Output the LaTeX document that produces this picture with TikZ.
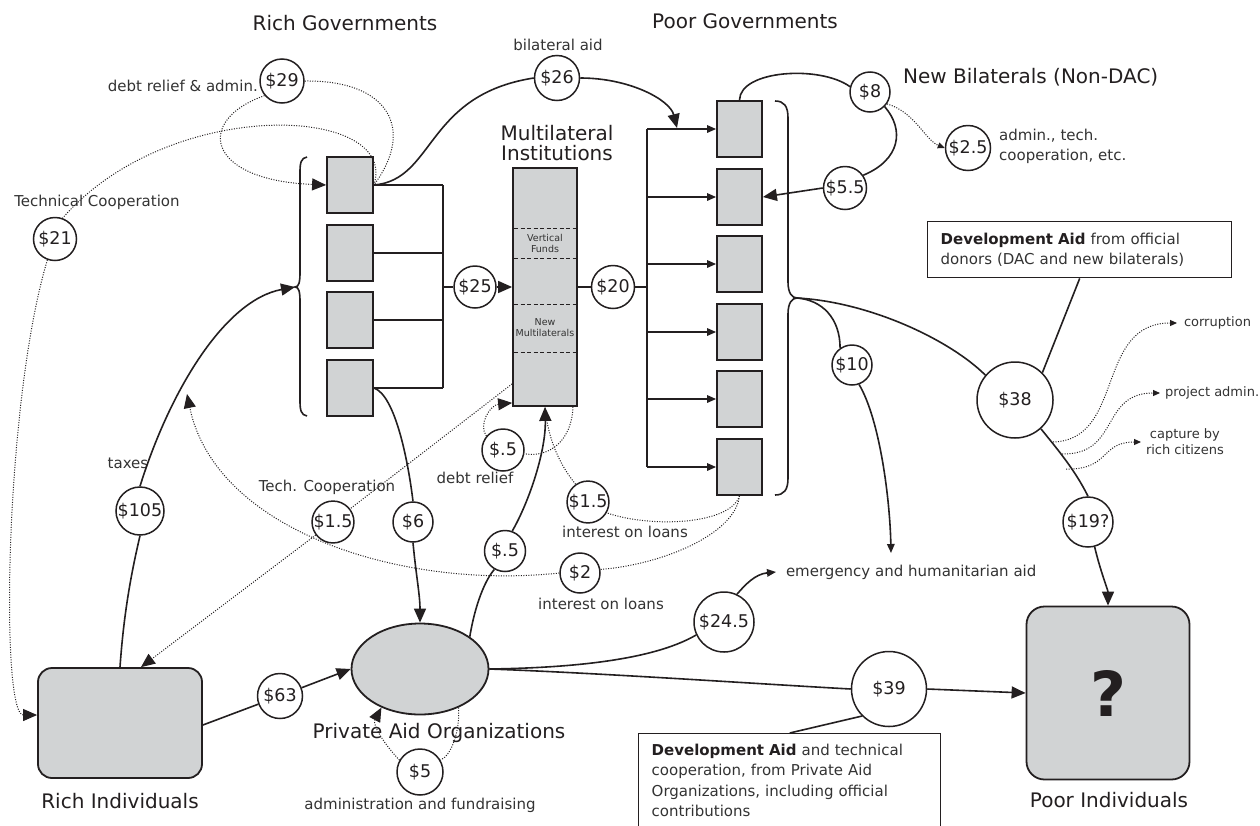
\documentclass[tikz,border=0pt]{standalone}
\usepackage{fontspec}
\setmainfont{DejaVu Sans}
\usetikzlibrary{arrows.meta,shapes.geometric,calc}
\definecolor{ink}{HTML}{231F20}
\definecolor{boxgray}{HTML}{D1D3D4}
\definecolor{lab}{HTML}{333333}
\newcommand\fsz[2]{\fontsize{#1}{#2}\selectfont}
\tikzset{
  ln/.style={draw=ink, line width=1.6pt},
  dotln/.style={draw=ink, line width=1pt, dash pattern=on 1pt off 1.5pt},
  dashln/.style={draw=ink, line width=1pt, dash pattern=on 4pt off 2.5pt},
  arr/.style={-{Triangle[length=14pt,width=12pt]}},
  sarr/.style={-{Triangle[length=9pt,width=7.5pt]}},
  tarr/.style={-{Triangle[length=7pt,width=6pt]}},
  gbox/.style={draw=ink, fill=boxgray, line width=1.8pt, inner sep=0pt},
  money/.style={circle, draw=ink, fill=white, line width=1.5pt, inner sep=0pt, text=ink, font=\fsz{17.5}{20}},
  ttl/.style={text=ink, font=\fsz{20}{20.5}, inner sep=0pt, align=center},
  lbl/.style={text=lab, font=\fsz{15}{20}, inner sep=0pt},
  smlbl/.style={text=lab, font=\fsz{13}{16}, inner sep=0pt},
  notebox/.style={draw=ink, line width=1.4pt, text=lab, font=\fsz{15}{20.5}, align=left, anchor=north west, inner xsep=13pt, inner ysep=10pt},
}
\begin{document}
\begin{tikzpicture}[x=1pt,y=-1pt]
\useasboundingbox (0,0) rectangle (1260,825);
\fill[white] (0,0) rectangle (1260,825);
\clip (0,0) rectangle (1260,825);

% ---------- titles
\node[ttl] at (345,23) {Rich Governments};
\node[ttl] at (745,21) {Poor Governments};
\node[ttl] at (557,143) {Multilateral\\Institutions};
\node[ttl, anchor=west] at (903,77) {New Bilaterals (Non-DAC)};
\node[ttl] at (120,801) {Rich Individuals};
\node[ttl] at (439,733) {Private Aid Organizations};
\node[ttl] at (1109,800) {Poor Individuals};

% ---------- boxes
\foreach \i/\y in {1/185,2/253,3/320,4/388}
  \node[gbox, minimum width=46pt, minimum height=56pt] (rg\i) at (350,\y) {};
\foreach \i/\y in {1/129,2/197,3/264,4/332,5/399,6/467}
  \node[gbox, minimum width=45pt, minimum height=56pt] (pg\i) at (739.5,\y) {};
\node[gbox, minimum width=64pt, minimum height=238pt] (mi) at (545,287) {};
\draw[dashln] (514,228) -- (576,228) (514,258) -- (576,258)
              (514,304) -- (576,304) (514,352) -- (576,352);
\node[text=lab, font=\fsz{9.5}{11}, align=center, inner sep=0pt] at (545,243) {Vertical\\Funds};
\node[text=lab, font=\fsz{9.5}{11}, align=center, inner sep=0pt] at (545,328) {New\\Multilaterals};

\node[gbox, rounded corners=14pt, minimum width=164pt, minimum height=110pt] (ri) at (120,723) {};
\node[gbox, ellipse, minimum width=137pt, minimum height=91pt] (pao) at (420,669) {};
\node[gbox, rounded corners=18pt, minimum width=163pt, minimum height=173pt, text=ink, font=\fsz{62}{62}\bfseries] (pi) at (1108,693) {?};

% ---------- notes
\node[notebox, text width=278pt, minimum height=56pt] (db1) at (927,221)
  {\textbf{\color{ink}Development Aid} from official\\donors (DAC and new bilaterals)};
\node[notebox, text width=276pt] (db2) at (638,733)
  {\textbf{\color{ink}Development Aid} and technical\\cooperation, from Private Aid\\Organizations, including official\\contributions};

% ---------- circles
\node[money, minimum size=44pt] (c29) at (282,81) {\$29};
\node[money, minimum size=43pt] (c21) at (55,239) {\$21};
\node[money, minimum size=45pt] (c26) at (557,78) {\$26};
\node[money, minimum size=40pt] (c8) at (870,92) {\$8};
\node[money, minimum size=45pt] (c2p5) at (968,148) {\$2.5};
\node[money, minimum size=43pt] (c55) at (845,188) {\$5.5};
\node[money, minimum size=42pt] (c25) at (475,287) {\$25};
\node[money, minimum size=43pt] (c20) at (613,287) {\$20};
\node[money, minimum size=40pt] (c10) at (852,365) {\$10};
\node[money, minimum size=76pt] (c38) at (1015,400) {\$38};
\node[money, minimum size=50pt] (c19) at (1088,522) {\$19?};
\node[money, minimum size=42pt] (cdr) at (503,450) {\$.5};
\node[money, minimum size=41pt] (ci15) at (588,502) {\$1.5};
\node[money, minimum size=41pt] (ct15) at (333,522) {\$1.5};
\node[money, minimum size=40pt] (c6) at (413,522) {\$6};
\node[money, minimum size=48pt] (c105) at (140,511) {\$105};
\node[money, minimum size=41pt] (cp5) at (505,551) {\$.5};
\node[money, minimum size=40pt] (c2) at (580,573) {\$2};
\node[money, minimum size=60pt] (c245) at (724,622) {\$24.5};
\node[money, minimum size=75pt] (c39) at (889,689) {\$39};
\node[money, minimum size=45pt] (c63) at (280,696) {\$63};
\node[money, minimum size=46pt] (c5) at (420,772) {\$5};

% ---------- labels
\node[lbl] at (558,45) {bilateral aid};
\node[lbl, anchor=east] at (258,86) {debt relief \& admin.};
\node[lbl] at (97,202) {Technical Cooperation};
\node[lbl] at (128,463) {taxes};
\node[lbl] at (327,487) {Tech. Cooperation};
\node[lbl] at (475,478) {debt relief};
\node[lbl] at (625,532) {interest on loans};
\node[lbl] at (601,604) {interest on loans};
\node[lbl, anchor=west, align=left] at (999,146) {admin., tech.\\cooperation, etc.};
\node[lbl, anchor=west, outer xsep=10pt] (emt) at (776,572) {emergency and humanitarian aid};
\node[smlbl, anchor=west, outer xsep=7pt] (corr) at (1177,323) {corruption};
\node[smlbl, anchor=west, outer xsep=5pt] (pa) at (1160,393) {project admin.};
\node[smlbl, anchor=west, outer xsep=5pt, align=center] (cap) at (1141,442) {capture by\\rich citizens};
\node[text=lab, font=\fsz{15}{18}, inner sep=0pt] at (420,805) {administration and fundraising};

% ---------- braces
\draw[ln] (307,157) .. controls (301,158) and (300,163) .. (300,172) -- (300,272)
  .. controls (300,282) and (299,287) .. (295,287)
  .. controls (299,287) and (300,292) .. (300,302) -- (300,401)
  .. controls (300,410) and (301,415) .. (307,416);
\coordinate (rbt) at (295,287);
\draw[ln] (775,101) .. controls (784,101) and (788,106) .. (788,118) -- (788,282)
  .. controls (788,293) and (792,298) .. (797,298)
  .. controls (792,298) and (788,303) .. (788,314) -- (788,478)
  .. controls (788,490) and (784,495) .. (775,495);
\coordinate (pbt) at (797,298);

% ---------- bus lines
\coordinate (bl) at (443,287);
\foreach \i in {1,...,4} \draw[ln] (rg\i.east) -- (rg\i.east -| bl);
\draw[ln] (rg1.east -| bl) -- (rg4.east -| bl);
\draw[ln] (bl) -- (c25);
\draw[ln, arr] (c25) -- (mi);
\coordinate (br) at (647,287);
\draw[ln] (mi) -- (c20);
\draw[ln] (c20) -- (br);
\draw[ln] (pg1.west -| br) -- (pg6.west -| br);
\foreach \i in {1,...,6} \draw[ln, sarr] (pg\i.west -| br) -- (pg\i.west);

% ---------- bilateral aid
\coordinate (ba) at (677,128);
\draw[ln] (rg1.east) .. controls (435,180) and (425,95) .. (c26.west);
\draw[ln, arr] (c26.east) .. controls (630,78) and (670,100) .. (ba);

% ---------- debt relief & admin loops, technical cooperation
\draw[dotln] (c29.east) .. controls (390,80) and (415,130) .. (rg1.east);
\draw[dotln, arr] (c29.-140) .. controls (195,120) and (205,180) .. (rg1.west);
\draw[dotln] (rg1.east) .. controls (400,105) and (170,95) .. (c21.70);
\draw[dotln, arr] (c21.-110) .. controls (5,400) and (0,715) .. ([yshift=8pt]ri.west);

% ---------- taxes
\draw[ln] (ri.north) .. controls (124,610) and (132,570) .. (c105.south);
\draw[ln, arr] (c105.north) .. controls (170,390) and (225,300) .. (rbt);

% ---------- $6
\draw[ln] (rg4.east) .. controls (395,395) and (408,460) .. (c6.north);
\draw[ln, arr] (c6.south) .. controls (416,575) and (420,595) .. (pao.north);

% ---------- $63
\draw[ln] ([yshift=-2pt]ri.east) -- (c63);
\draw[ln, arr] (c63) -- (pao.west);

% ---------- $5 admin loop
\draw[dotln] (pao.-45) .. controls (460,730) and (452,755) .. (c5.30);
\draw[dotln, arr] (c5.150) .. controls (385,745) and (372,725) .. (pao.-135);

% ---------- $.5 private to multilateral
\draw[ln] (pao.33) .. controls (475,605) and (485,580) .. (cp5.-120);
\draw[ln, arr] (cp5.70) .. controls (530,500) and (546,450) .. (mi.south);

% ---------- debt relief $.5
\draw[dotln] ([xshift=-5pt]mi.south east) .. controls (572,440) and (550,458) .. (cdr.-10);
\draw[dotln, arr] (cdr.140) .. controls (478,425) and (490,405) .. ([yshift=4pt]mi.south west);

% ---------- tech cooperation $1.5
\draw[dotln] ([yshift=23pt]mi.south west) -- (ct15);
\draw[dotln, arr] (ct15) -- ([xshift=21pt]ri.north);

% ---------- interest on loans
\draw[dotln] (pg6.south) .. controls (730,525) and (650,528) .. (ci15.-30);
\draw[dotln] (ci15.125) .. controls (560,465) and (548,440) .. (mi.south);
\coordinate (tarrow) at (187,394);
\draw[dotln] (pg6.south) .. controls (735,535) and (660,565) .. (c2.10);
\draw[dotln, arr] (c2.west) .. controls (400,590) and (215,530) .. (tarrow);

% ---------- $24.5 and $39
\draw[ln] (pao.east) .. controls (560,668) and (650,662) .. (c245.-155);
\draw[ln, sarr] (c245.65) .. controls (745,585) and (755,574) .. (emt.west);
\draw[ln] (pao.east) .. controls (600,673) and (760,684) .. (c39.west);
\draw[ln, arr] (c39.east) -- (pi.west);
\draw[ln] (db2.north) -- (c39.-135);

% ---------- new bilaterals
\draw[ln] (pg1.north) .. controls (740,70) and (820,65) .. (c8.165);
\draw[ln] (c8.-45) .. controls (905,130) and (900,160) .. (c55.35);
\draw[ln, arr] (c55.west) -- (pg2.east);
\draw[dotln, tarr] (c8.-35) .. controls (915,112) and (925,140) .. (c2p5.west);

% ---------- $10
\coordinate (emarr) at (891,553);
\draw[ln] (pbt) .. controls (822,300) and (840,318) .. (c10.125);
\draw[ln, sarr] (c10.-70) .. controls (880,420) and (890,500) .. (emarr);

% ---------- $38 / $19?
\draw[ln] (pbt) .. controls (870,302) and (950,340) .. (c38.140);
\draw[ln] (db1.south) -- (c38.45);
\draw[ln] (c38.-48) .. controls (1058,450) and (1075,470) .. (c19.north);
\draw[ln, arr] (c19.-75) .. controls (1100,570) and (1108,590) .. (pi.north);
\coordinate (k1) at (1053,442);
\coordinate (k2) at (1062,454);
\coordinate (k3) at (1066,469);
\draw[dotln, tarr] (k1) .. controls (1125,440) and (1095,323) .. (corr.west);
\draw[dotln, tarr] (k2) .. controls (1120,455) and (1100,393) .. (pa.west);
\draw[dotln, tarr] (k3) .. controls (1110,470) and (1100,442) .. (cap.west);
\end{tikzpicture}
\end{document}
